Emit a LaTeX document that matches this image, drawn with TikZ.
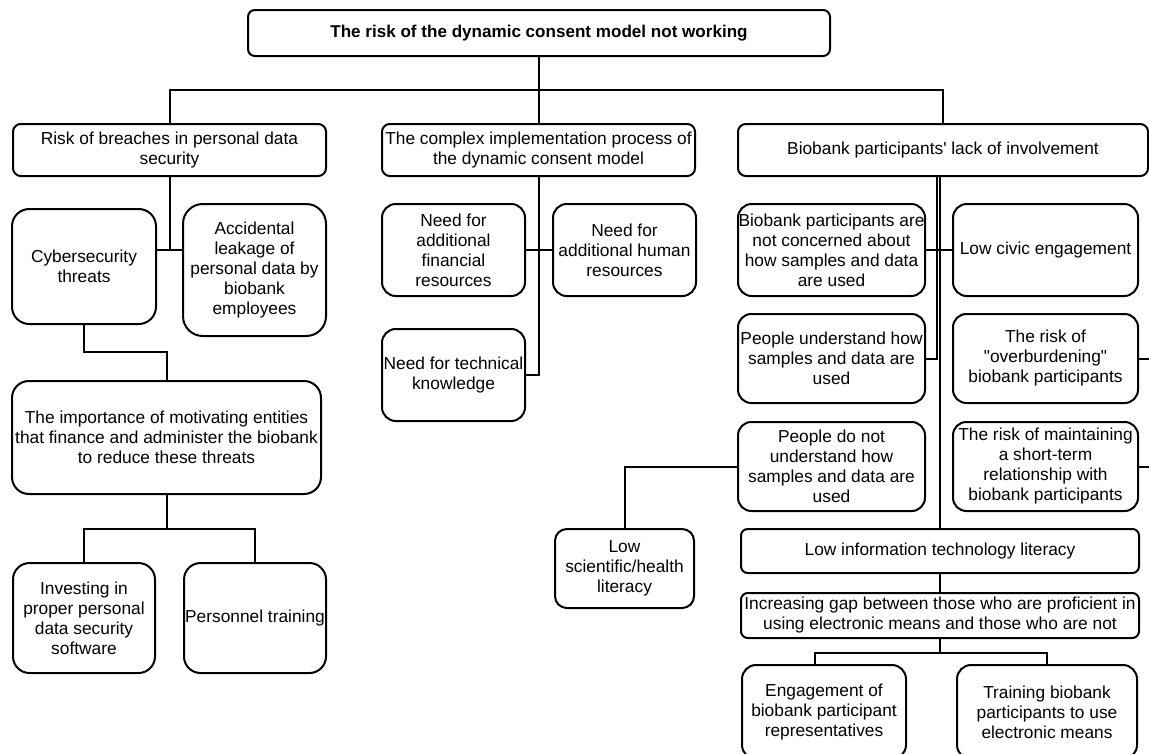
\documentclass[tikz,border=0pt]{standalone}
\usepackage{fontspec}
\newfontfamily\lib{Liberation Sans}
\usetikzlibrary{calc}

\tikzset{
  box/.style={draw, line width=1.5pt, fill=white, align=center, inner sep=0pt,
    font=\lib\fontsize{13}{15}\selectfont},
  link/.style={draw, line width=1.5pt}
}

% Rounded box given by its pixel corners: [style]{name}{x1}{y1}{x2}{y2}{text}
\newcommand\rbox[7][]{%
  \pgfmathsetmacro\bw{(#5-#3)*0.75}%
  \pgfmathsetmacro\bh{(#6-#4)*0.75}%
  \pgfmathsetmacro\br{0.15*min(\bw,\bh)}%
  \node[box, minimum width=\bw pt, minimum height=\bh pt, rounded corners=\br pt, #1]
    (#2) at ({(#3+#5)/2},{(#4+#6)/2}) {#7};%
}

\begin{document}
\begin{tikzpicture}[x=0.75pt, y=-0.75pt]
\fill[white] (0,0) rectangle (1149,753);
\useasboundingbox (0,0) rectangle (1149,753);

% root and first level
\rbox[font=\lib\bfseries\fontsize{12.8}{15}\selectfont]{top}{248}{10}{830}{56}{The risk of the dynamic consent model not working}
\rbox{risk}{13}{124}{326}{176}{Risk of breaches in personal data\\security}
\rbox{cplx}{382}{124}{695}{176}{The complex implementation process of\\the dynamic consent model}
\rbox{bio}{738}{124}{1148}{176}{Biobank participants' lack of involvement}

% data security branch
\rbox{cyber}{12}{209}{156}{324}{Cybersecurity\\threats}
\rbox{acc}{183}{204}{326}{336}{Accidental\\leakage of\\personal data by\\biobank\\employees}
\rbox{imp}{12}{381}{321}{494}{The importance of motivating entities\\that finance and administer the biobank\\to reduce these threats}
\rbox{inv}{13}{563}{155}{673}{Investing in\\proper personal\\data security\\software}
\rbox{pers}{184}{563}{326}{673}{Personnel training}

% implementation branch
\rbox{fin}{382}{204}{525}{296}{Need for\\additional\\financial\\resources}
\rbox{hum}{553}{204}{696}{296}{Need for\\additional human\\resources}
\rbox{tech}{382}{329}{525}{421}{Need for technical\\knowledge}

% involvement branch
\rbox{nc}{738}{204}{925}{296}{Biobank participants are\\not concerned about\\how samples and data\\are used}
\rbox{civic}{953}{204}{1138}{296}{Low civic engagement}
\rbox{pu}{738}{314}{925}{403}{People understand how\\samples and data are\\used}
\rbox{ob}{953}{314}{1138}{403}{The risk of\\"overburdening"\\biobank participants}
\rbox{pdn}{738}{422}{925}{511}{People do not\\understand how\\samples and data are\\used}
\rbox{mt}{953}{422}{1138}{511}{The risk of maintaining\\a short-term\\relationship with\\biobank participants}
\rbox{lowsci}{555}{529}{694}{608}{Low\\scientific/health\\literacy}
\rbox{lowinfo}{741}{529}{1139}{573}{Low information technology literacy}
\rbox{inc}{741}{593}{1139}{638}{Increasing gap between those who are proficient in\\using electronic means and those who are not}
\rbox{eng}{742}{665}{906}{759}{Engagement of\\biobank participant\\representatives}
\rbox{trn}{957}{665}{1137}{759}{Training biobank\\participants to use\\electronic means}

% junction points
\coordinate (j0) at (539,90);
\coordinate (j1) at (169.5,250);
\coordinate (j2) at (166.5,352);
\coordinate (j3) at (166.5,529);
\coordinate (j4) at (940,653);

% root to first level
\draw[link] (top.south) -- (j0);
\draw[link] (risk.north) |- (j0) -| (bio.north);
\draw[link] (cplx.north) |- (j0);

% data security branch
\draw[link] (risk.south) -- (j1);
\draw[link] (cyber.east |- j1) -- (acc.west |- j1);
\draw[link] (cyber.south) |- (j2) -- (imp.north);
\draw[link] (imp.south) -- (j3);
\draw[link] (inv.north) |- (j3) -| (pers.north);

% implementation branch
\draw[link] (cplx.south) |- (tech.east);
\draw[link] (fin.east) -- (hum.west);

% involvement branch
\draw[link] ($(bio.south)+(-6,0)$) |- (pu.east);
\draw[link] ($(bio.south)+(-3,0)$) -- (lowinfo.north);
\draw[link] (nc.east) -- (civic.west);
\draw[link] (ob.east) -- ++(20,0);
\draw[link] (mt.east) -- ++(20,0);
\draw[link] (pdn.west) -| (lowsci.north);
\draw[link] (lowinfo.south) -- (inc.north);
\draw[link] (inc.south) -- (j4);
\draw[link] (j4) -| ($(eng.north)+(-9,0)$);
\draw[link] (j4) -| (trn.north);
\end{tikzpicture}
\end{document}
